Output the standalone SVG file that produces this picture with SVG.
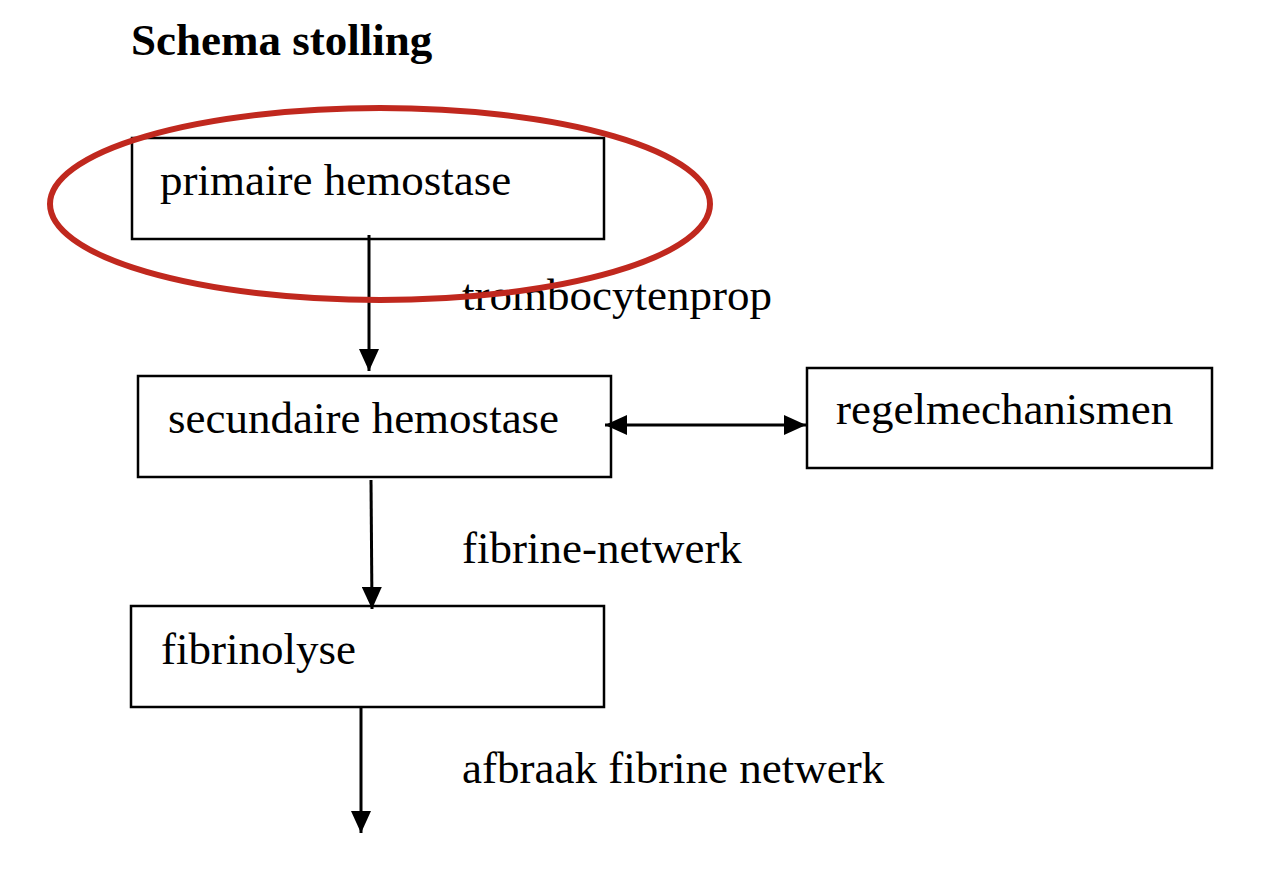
<svg xmlns="http://www.w3.org/2000/svg" width="1286" height="876" viewBox="0 0 1286 876">
<style>
.box{fill:#fff;stroke:#000;stroke-width:2.5}
.t{font-family:"Liberation Serif","Times New Roman",serif;font-size:45px;fill:#000}
.title{font-weight:bold}
.c{stroke:#000;stroke-width:3;fill:none}
</style>
<defs>
<marker id="ah" markerUnits="userSpaceOnUse" markerWidth="22" markerHeight="20" refX="22" refY="10" orient="auto-start-reverse" viewBox="0 0 22 20">
<path d="M0,0 L22,10 L0,20 Z" fill="#000"/>
</marker>
</defs>
<rect width="1286" height="876" fill="#fff"/>
<text class="t title" x="131" y="55">Schema stolling</text>
<g id="n1"><rect class="box" x="132" y="138" width="472" height="101"/><text class="t" x="160" y="195">primaire hemostase</text></g>
<g id="n2"><rect class="box" x="138" y="376" width="473" height="101"/><text class="t" x="168" y="433">secundaire hemostase</text></g>
<g id="n3"><rect class="box" x="807" y="368" width="405" height="100"/><text class="t" x="836" y="424">regelmechanismen</text></g>
<g id="n4"><rect class="box" x="131" y="606" width="473" height="101"/><text class="t" x="161" y="664">fibrinolyse</text></g>
<g id="connectors">
<line class="c" x1="369" y1="235" x2="369" y2="371" marker-end="url(#ah)"/>
<line class="c" x1="371" y1="480" x2="372" y2="609" marker-end="url(#ah)"/>
<line class="c" x1="361" y1="707" x2="361" y2="833" marker-end="url(#ah)"/>
<line class="c" x1="605" y1="425" x2="806" y2="425" marker-start="url(#ah)" marker-end="url(#ah)"/>
</g>
<text class="t" x="462" y="310">trombocytenprop</text>
<text class="t" x="462" y="563">fibrine-netwerk</text>
<text class="t" x="462" y="783">afbraak fibrine netwerk</text>
<ellipse cx="380" cy="204" rx="330" ry="96" fill="none" stroke="#c0281e" stroke-width="6"/>
</svg>
